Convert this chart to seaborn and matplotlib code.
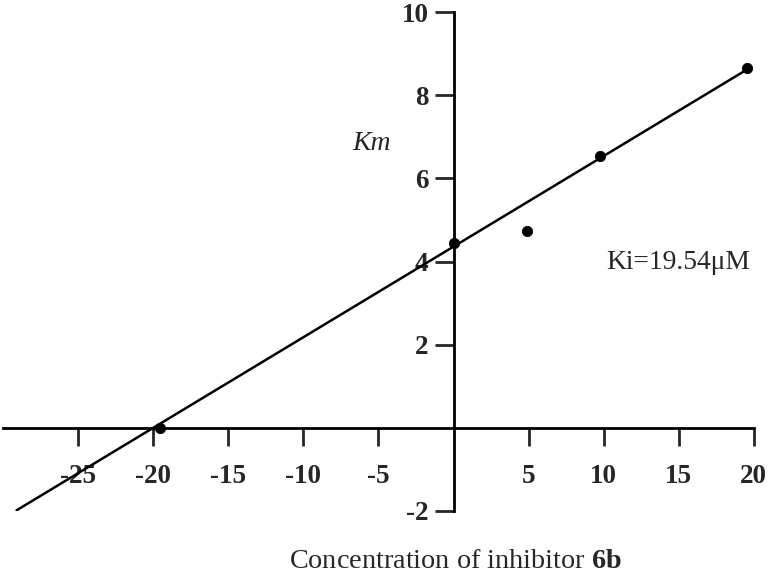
import numpy as np
import pandas as pd
import matplotlib
matplotlib.use('Agg')
import matplotlib.pyplot as plt
import seaborn as sb

# data
conc = [-19.54, 0.0, 4.88, 9.77, 19.53]  # inhibitor concentration
km = [0.0, 4.45, 4.74, 6.54, 8.65]  # apparent Km
fit_intercept = 4.36  # Km at zero inhibitor (fitted line)
fit_slope = 0.218
fit_range = [-29.1, 19.3]
x_ticks = [-25, -20, -15, -10, -5, 5, 10, 15, 20]
y_ticks = [-2, 2, 4, 6, 8, 10]

sb.set_style('white')
plt.rcParams['font.family'] = ['Liberation Serif', 'DejaVu Serif']
plt.rcParams['mathtext.fontset'] = 'custom'
plt.rcParams['mathtext.rm'] = 'Liberation Serif'
plt.rcParams['mathtext.bf'] = 'Liberation Serif:bold'

points = pd.DataFrame({'conc': conc, 'km': km})
fit = pd.DataFrame({'conc': fit_range})
fit['km'] = fit_intercept + fit_slope * fit['conc']

fig = plt.figure(figsize=(7.7, 5.8), dpi=100)
ax = fig.add_axes([0.004, 0.119, 0.975, 0.860])

sb.lineplot(x='conc', y='km', data=fit, color='black', linewidth=1.8, ax=ax)
sb.scatterplot(x='conc', y='km', data=points, color='black', s=55,
               edgecolor='black', zorder=3, ax=ax)

ax.set_xlim(-30, 20)
ax.set_ylim(-2, 10)

# axes cross at the origin
for side in ['top', 'right']:
    ax.spines[side].set_visible(False)
ax.spines['left'].set_position(('data', 0))
ax.spines['bottom'].set_position(('data', 0))
for side in ['left', 'bottom']:
    ax.spines[side].set_linewidth(2)
    ax.spines[side].set_color('black')

ax.set_xticks(x_ticks)
ax.set_yticks(y_ticks)
ax.set_xticklabels([str(v) for v in x_ticks], fontweight='bold', fontsize=19.5)
ax.set_yticklabels([str(v) for v in y_ticks], fontweight='bold', fontsize=19.5)
ax.tick_params(axis='x', direction='out', length=13, width=2, pad=13, bottom=True)
ax.tick_params(axis='y', direction='out', length=14, width=2, pad=4, left=True)
ax.set_xlabel('')
ax.set_ylabel('')

fig.text(0.482, 0.753, 'Km', fontsize=20, style='italic', ha='center', va='center')
fig.text(0.881, 0.548, 'Ki=19.54\u03bcM', fontsize=19.8, ha='center', va='center')
fig.text(0.591, 0.02, 'Concentration of inhibitor $\\mathbf{6b}$', fontsize=20.3,
         ha='center', va='baseline')

fig.savefig('out.png', dpi=100)
